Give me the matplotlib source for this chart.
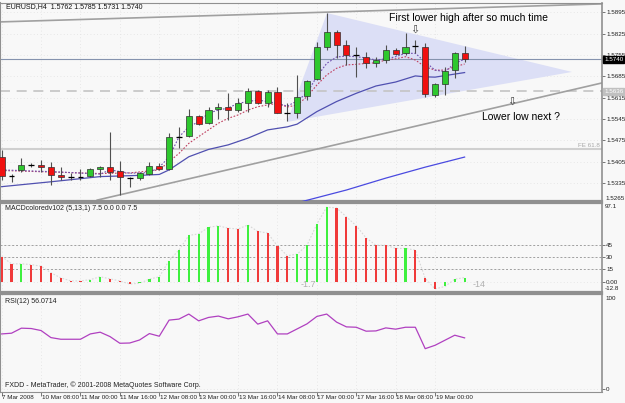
import matplotlib
matplotlib.use('Agg')
import matplotlib.pyplot as plt
from matplotlib.patches import Polygon

# EURUSD H4 candles
opens = [1.5421, 1.5358, 1.5378, 1.5394, 1.5394, 1.5388, 1.5361, 1.5356, 1.5356, 1.5358,
         1.5381, 1.5387, 1.5374, 1.5352, 1.5351, 1.5364, 1.5392, 1.5380, 1.5487, 1.5489,
         1.5555, 1.5531, 1.5577, 1.5584, 1.5574, 1.5596, 1.5637, 1.5596, 1.5634, 1.5565,
         1.5564, 1.5621, 1.5675, 1.5782, 1.5831, 1.5787, 1.5755, 1.5749, 1.5727, 1.5738,
         1.5770, 1.5760, 1.5784, 1.5782, 1.5624, 1.5660, 1.5706, 1.5762]
highs = [1.5443, 1.5364, 1.5417, 1.5400, 1.5410, 1.5405, 1.5388, 1.5368, 1.5381, 1.5384,
         1.5390, 1.5503, 1.5408, 1.5356, 1.5372, 1.5405, 1.5400, 1.5500, 1.5520, 1.5577,
         1.5558, 1.5585, 1.5596, 1.5629, 1.5613, 1.5646, 1.5640, 1.5640, 1.5651, 1.5596,
         1.5689, 1.5673, 1.5798, 1.5891, 1.5837, 1.5804, 1.5782, 1.5766, 1.5749, 1.5787,
         1.5777, 1.5826, 1.5804, 1.5793, 1.5662, 1.5716, 1.5766, 1.5785]
lows = [1.5345, 1.5339, 1.5372, 1.5388, 1.5372, 1.5328, 1.5345, 1.5345, 1.5345, 1.5356,
        1.5355, 1.5345, 1.5296, 1.5323, 1.5345, 1.5361, 1.5378, 1.5378, 1.5449, 1.5487,
        1.5525, 1.5528, 1.5544, 1.5542, 1.5569, 1.5569, 1.5594, 1.5585, 1.5563, 1.5539,
        1.5548, 1.5607, 1.5673, 1.5771, 1.5744, 1.5722, 1.5684, 1.5711, 1.5716, 1.5727,
        1.5755, 1.5755, 1.5760, 1.5618, 1.5618, 1.5624, 1.5678, 1.5731]
closes = [1.5358, 1.5358, 1.5394, 1.5394, 1.5388, 1.5361, 1.5356, 1.5356, 1.5356, 1.5381,
          1.5387, 1.5372, 1.5355, 1.5352, 1.5368, 1.5391, 1.5380, 1.5487, 1.5487, 1.5555,
          1.5528, 1.5574, 1.5583, 1.5574, 1.5596, 1.5637, 1.5596, 1.5634, 1.5565, 1.5565,
          1.5618, 1.5669, 1.5782, 1.5831, 1.5787, 1.5755, 1.5755, 1.5727, 1.5738, 1.5771,
          1.5759, 1.5782, 1.5784, 1.5627, 1.5659, 1.5703, 1.5760, 1.5740]

# moving averages (bar index, price)
fast_bars = [0, 6, 10, 11, 13, 15, 16, 17, 18, 19, 20, 21, 22, 23, 24, 25, 26, 27, 28, 29, 30,
             31, 32, 33, 34, 35, 36, 37, 38, 39, 40, 41, 42, 43, 44, 45, 46, 47]
fast_vals = [1.5378, 1.5371, 1.5364, 1.5378, 1.5367, 1.5369, 1.5387, 1.5420, 1.5486, 1.5519,
             1.5536, 1.5564, 1.5574, 1.5581, 1.5596, 1.5602, 1.5607, 1.5602, 1.5596, 1.5587,
             1.5604, 1.5630, 1.5684, 1.5727, 1.5748, 1.5751, 1.5749, 1.5745, 1.5738, 1.5742,
             1.5749, 1.5760, 1.5760, 1.5732, 1.5705, 1.5700, 1.5727, 1.5741]
mid_bars = [0, 6, 10, 13, 16, 18, 19, 20, 21, 22, 23, 24, 25, 26, 27, 28, 29, 30, 31, 32, 33,
            34, 35, 36, 37, 38, 39, 40, 41, 42, 43, 44, 45, 46, 47]
mid_vals = [1.5376, 1.5370, 1.5366, 1.5368, 1.5378, 1.5432, 1.5465, 1.5487, 1.5509, 1.5531,
            1.5547, 1.5558, 1.5574, 1.5585, 1.5591, 1.5596, 1.5584, 1.5591, 1.5618, 1.5656,
            1.5689, 1.5711, 1.5722, 1.5724, 1.5727, 1.5729, 1.5738, 1.5742, 1.5749, 1.5738,
            1.5716, 1.5705, 1.5705, 1.5716, 1.5725]
slow_bars = [0, 5, 10, 14, 16, 17, 19, 21, 23, 25, 27, 29, 30, 32, 34, 36, 38, 40, 42, 43, 44, 47]
slow_vals = [1.5323, 1.5339, 1.5356, 1.5360, 1.5363, 1.5378, 1.5421, 1.5445, 1.5460, 1.5482,
             1.5509, 1.5519, 1.5528, 1.5569, 1.5602, 1.5629, 1.5653, 1.5666, 1.5686, 1.5683,
             1.5682, 1.5697]
long_bars = [30, 35, 39, 43, 47]
long_vals = [1.5270, 1.5312, 1.5351, 1.5387, 1.5420]

# MACDcoloredv102 histogram and colour (1 = green, -1 = red)
macd_vals = [31, 22, 22, 21, 19, 11, 4.6, 1, 0.8, 2.5, 6, 3.5, 0.8, -3, -2, 3, 6, 26, 39, 57,
             59, 67, 69, 66, 65, 70, 62, 60, 44, 32, 34, 45, 71, 92, 91, 80, 69, 54, 45, 45,
             41, 41, 39, 4, -9, -6, 3, 5]
macd_dir = [-1, -1, 1, -1, -1, -1, -1, -1, -1, 1, 1, -1, -1, -1, 1, 1, 1, 1, 1, 1,
            1, 1, 1, -1, -1, 1, -1, -1, -1, -1, 1, 1, 1, 1, -1, -1, -1, -1, -1, -1,
            -1, 1, -1, -1, -1, 1, 1, 1]
macd_levels = [45, 30, 15]

rsi_vals = [60.4, 61.2, 66.7, 66.3, 64.1, 56.4, 54.6, 54.6, 54.6, 60.4, 62.3, 57.5, 50.2, 50.5,
            53.8, 60.8, 57.9, 75.5, 76.6, 82.1, 74.7, 78.4, 79.9, 76.9, 79.1, 82.1, 71.1, 74.7,
            60.4, 60.4, 65.9, 71.4, 79.5, 82.1, 73.3, 68.1, 67.7, 63.4, 63.7, 67.0, 65.6, 67.7,
            67.7, 44.3, 48.0, 53.5, 59.0, 56.1]

time_labels = ['7 Mar 2008', '10 Mar 08:00', '11 Mar 00:00', '11 Mar 16:00', '12 Mar 08:00',
               '13 Mar 00:00', '13 Mar 16:00', '14 Mar 08:00', '17 Mar 00:00', '17 Mar 16:00',
               '18 Mar 08:00', '19 Mar 00:00']
price_ticks = [1.5895, 1.5825, 1.5755, 1.5685, 1.5615, 1.5545, 1.5475, 1.5405, 1.5335]

# drawn objects
top_line = ([-0.17, 60.95], [1.5863, 1.5922])
low_line = ([9.7, 60.95], [1.5279, 1.5663])
triangle = [(28.97, 1.5535), (33.03, 1.5892), (57.9, 1.5699)]
bid_price = 1.5740
level_price = 1.5636
fe_price = 1.5446

BG = '#f8f8f8'
SMALL = ['Liberation Sans', 'DejaVu Sans']
plt.rcParams['font.family'] = SMALL
FS = 4.5
W, H = 625, 403
fig = plt.figure(figsize=(6.25, 4.03), dpi=100, facecolor=BG)

def box(top, bottom):
    return [0, 1 - bottom / H, 602 / W, (bottom - top) / H]

ax = fig.add_axes(box(3, 201))
ax2 = fig.add_axes(box(203, 292))
ax3 = fig.add_axes(box(294, 392))

xlim = (-0.17, 60.95)
n = len(closes)
xs = list(range(n))
for a in (ax, ax2, ax3):
    a.set_facecolor(BG)
    a.set_xlim(*xlim)
    for s in a.spines.values():
        s.set_color('#909090')
    a.spines['left'].set_linewidth(1.5)
    a.spines['right'].set_linewidth(1.2)
    a.yaxis.tick_right()
    a.tick_params(axis='y', length=2, width=0.6, color='#606060', labelsize=FS, pad=1,
                  labelcolor='#202020')
    a.set_xticks(range(0, 48, 4))
    a.tick_params(axis='x', length=0)
    a.set_xticklabels([])
    a.grid(True, color='#e2e2e2', linestyle=(0, (1, 3)), linewidth=0.6)
    a.set_axisbelow(True)
ax.spines['bottom'].set_linewidth(1.6)
ax2.spines['top'].set_linewidth(1.6)
ax2.spines['bottom'].set_linewidth(1.6)
ax3.spines['top'].set_linewidth(1.6)

# ---- main chart ----
ax.set_ylim(1.5276, 1.5925)
ax.set_yticks(price_ticks)
ax.set_yticklabels(['%.4f' % p for p in price_ticks])

ax.add_patch(Polygon(triangle, closed=True, facecolor='#dcdff6', edgecolor='none', zorder=1))
ax.axhline(bid_price, color='#8593ae', lw=0.8, zorder=2)
ax.axhline(level_price, color='#c4c4c4', lw=1.2, linestyle=(0, (6, 4)), zorder=2)
ax.axhline(fe_price, color='#cfcfcf', lw=1.5, zorder=2)
ax.text(xlim[1] - 0.2, fe_price + 0.0003, 'FE 61.8', fontsize=FS, color='#a8a8a8',
        ha='right', va='bottom')
ax.plot(*top_line, color='#a0a0a0', lw=1.2, zorder=2)
ax.plot(*low_line, color='#a0a0a0', lw=1.2, zorder=2)

ax.plot(long_bars, long_vals, color='#4a4ae0', lw=0.9, zorder=3)
ax.plot(slow_bars, slow_vals, color='#5050b0', lw=0.9, zorder=3)
ax.plot(mid_bars, mid_vals, color='#c04060', lw=0.8, linestyle=(0, (1.5, 1.5)), zorder=3)
ax.plot(fast_bars, fast_vals, color='#7050b0', lw=0.8, linestyle=(0, (1.5, 1.5)), zorder=3)

ax.vlines(xs, lows, highs, color='#505050', lw=0.8, zorder=4)
for i in range(n):
    o, c = opens[i], closes[i]
    if o == c:
        ax.hlines(o, i - 0.3, i + 0.3, color='black', lw=0.9, zorder=5)
    else:
        ax.bar(i, c - o, bottom=o, width=0.62, color='#2ec82e' if c > o else '#f01010',
               edgecolor='#303030', linewidth=0.5, zorder=5)

ax.text(0.4, 1.5912, 'EURUSD,H4  1.5762 1.5785 1.5731 1.5740', fontsize=5, color='#101010',
        va='center')
ax.text(39.3, 1.5876, 'First lower high after so much time', fontsize=7.5, va='center')
ax.text(41.9, 1.5838, '⇩', fontsize=8, ha='center', va='center', color='#404040',
        family='DejaVu Sans')
ax.text(48.8, 1.5551, 'Lower low next ?', fontsize=7.5, va='center')
ax.text(51.8, 1.5601, '⇩', fontsize=8, ha='center', va='center', color='#404040',
        family='DejaVu Sans')

ax.text(xlim[1] + 0.2, bid_price, '1.5740', fontsize=FS, color='white', va='center',
        bbox=dict(boxstyle='square,pad=0.15', fc='black', ec='black'), clip_on=False, zorder=10)
ax.text(xlim[1] + 0.2, level_price, '1.5636', fontsize=FS, color='white', va='center',
        bbox=dict(boxstyle='square,pad=0.15', fc='#c0c0c0', ec='#c0c0c0'), clip_on=False,
        zorder=10)
fig.text(605 / W, 1 - 199 / H, '1.5265', fontsize=FS, color='#202020', va='center')

# ---- MACD ----
ax2.set_ylim(-12.8, 97.1)
ax2.set_yticks(macd_levels + [0])
ax2.set_yticklabels(['45', '30', '15', '0.00'])
fig.text(605 / W, 1 - 207 / H, '97.1', fontsize=FS, color='#202020', va='center')
fig.text(605 / W, 1 - 289 / H, '-12.8', fontsize=FS, color='#202020', va='center')
for lv in macd_levels:
    ax2.axhline(lv, color='#a0a0a0', lw=0.7, linestyle=(0, (2, 2)))
ax2.plot(xs, macd_vals, color='#d8d8d8', lw=0.8, linestyle=(0, (1.5, 1.5)))
ax2.bar(xs, macd_vals, width=0.22,
        color=['#3ef03e' if d > 0 else '#f03a3a' for d in macd_dir], zorder=3)
ax2.text(0.3, 90, 'MACDcoloredv102 (5,13,1) 7.5 0.0 0.0 7.5', fontsize=5, color='#202020',
         va='center')
ax2.text(30.3, -3, '-1.7', fontsize=6.5, color='#b0b0b0', va='center')
ax2.text(47.8, -3, '-14', fontsize=6.5, color='#b0b0b0', va='center')

# ---- RSI ----
ax3.set_ylim(-3, 104)
ax3.set_yticks([0])
ax3.set_yticklabels(['0'])
fig.text(605 / W, 1 - 298 / H, '100', fontsize=FS, color='#202020', va='center')
ax3.plot(xs, rsi_vals, color='#b040c0', lw=0.9)
ax3.text(0.3, 96, 'RSI(12) 56.0714', fontsize=5, color='#202020', va='center')
ax3.text(0.3, 5, 'FXDD - MetaTrader, © 2001-2008 MetaQuotes Software Corp.', fontsize=5,
         color='#202020', va='center')

ax3.set_xticks(range(0, 48, 4))
ax3.tick_params(axis='x', length=3, width=0.6, color='#606060')
for k, lab in enumerate(time_labels):
    ax3.text(4 * k + 0.05, -0.03, lab, transform=ax3.get_xaxis_transform(), fontsize=FS,
             ha='left', va='top', color='#202020', clip_on=False)

fig.savefig('out.png', dpi=100, facecolor=BG)
